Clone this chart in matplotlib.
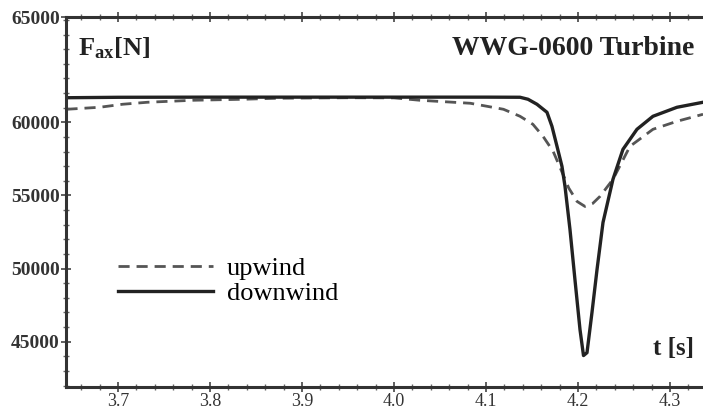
import matplotlib
matplotlib.use("Agg")
import matplotlib.pyplot as plt
from matplotlib.ticker import FixedLocator, FixedFormatter, MultipleLocator

plt.rcParams["font.family"] = ["Liberation Serif", "DejaVu Serif"]
plt.rcParams["mathtext.fontset"] = "custom"
plt.rcParams["mathtext.rm"] = "Liberation Serif"
plt.rcParams["mathtext.bf"] = "Liberation Serif:bold"

# values
t_down = [3.644, 3.70, 3.80, 3.90, 4.00, 4.10, 4.137, 4.1457, 4.1554, 4.1663,
          4.1717, 4.1772, 4.1826, 4.1859, 4.1913, 4.1967, 4.2022, 4.2060, 4.2098,
          4.2152, 4.2207, 4.2272, 4.2380, 4.2489, 4.2641, 4.2815, 4.3076, 4.3359]
f_down = [61680, 61710, 61720, 61720, 61720, 61720, 61712, 61575, 61233, 60685,
          59726, 58356, 56986, 55616, 52671, 49247, 45822, 44050, 44247,
          46986, 49932, 53151, 56096, 58151, 59521, 60411, 61027, 61370]

t_up = [3.644, 3.680, 3.705, 3.732, 3.782, 3.836, 3.873, 3.95, 4.00, 4.028,
        4.083, 4.101, 4.119, 4.137, 4.151, 4.162, 4.173, 4.180, 4.190, 4.199,
        4.2076, 4.216, 4.2239, 4.2380, 4.2565, 4.2815, 4.3076, 4.3359]
f_up = [60890, 61027, 61233, 61370, 61507, 61575, 61644, 61680, 61670, 61507,
        61301, 61096, 60890, 60411, 59863, 59041, 58014, 56986, 55500, 54589,
        54247, 54450, 54932, 56096, 58356, 59521, 60068, 60548]

y_ticks = [45000, 50000, 55000, 60000]
y_labels = ["45000", "50000", "55000", "60000", "65000"]
x_ticks = [3.7, 3.8, 3.9, 4.0, 4.1, 4.2, 4.3]
x_labels = ["3.7", "3.8", "3.9", "4.0", "4.1", "4.2", "4.3"]

Y_LO, Y_HI = 41900, 67200
X_LO, X_HI = 3.6435, 4.3435

fig = plt.figure(figsize=(7.03, 4.09), dpi=100)
ax = fig.add_axes([66 / 703, 22 / 409, 644 / 703, 370 / 409])

ax.plot(t_up, f_up, color="#555555", lw=2.0, ls=(0, (4, 2.5)), label="upwind")
ax.plot(t_down, f_down, color="#222222", lw=2.4, label="downwind")

ax.set_xlim(X_LO, X_HI)
ax.set_ylim(Y_LO, Y_HI)

ax.xaxis.set_major_locator(FixedLocator(x_ticks))
ax.xaxis.set_major_formatter(FixedFormatter(x_labels))
ax.xaxis.set_minor_locator(MultipleLocator(0.02))
# the top label in the original sits at the upper frame
ax.yaxis.set_major_locator(FixedLocator(y_ticks + [Y_HI]))
ax.yaxis.set_major_formatter(FixedFormatter(y_labels))
ax.yaxis.set_minor_locator(MultipleLocator(1000))

for s in ax.spines.values():
    s.set_color("#333333")
    s.set_linewidth(2.2)
ax.spines["right"].set_visible(False)

ax.tick_params(axis="both", which="major", direction="inout", length=7, width=1.2,
               color="#444444", top=True)
ax.tick_params(axis="both", which="minor", direction="inout", length=4, width=1.0,
               color="#666666", top=True)
ax.tick_params(axis="x", labelsize=13, pad=1, labelcolor="#333333")
ax.tick_params(axis="y", labelsize=14, pad=1, labelcolor="#333333")
for lb in ax.get_yticklabels():
    lb.set_fontweight("bold")

ax.text(0.018, 0.915, r"$\mathbf{F_{ax}[N]}$", transform=ax.transAxes, fontsize=19,
        color="#222222", va="center", ha="left")
ax.text(0.975, 0.915, "WWG-0600 Turbine", transform=ax.transAxes, fontsize=20,
        fontweight="bold", color="#222222", va="center", ha="right")
ax.text(0.975, 0.105, "t [s]", transform=ax.transAxes, fontsize=18,
        fontweight="bold", color="#222222", va="center", ha="right")

ax.legend(loc="upper left", bbox_to_anchor=(0.065, 0.38), frameon=False,
          fontsize=19, handlelength=3.6, handletextpad=0.5, labelspacing=0.05,
          borderaxespad=0)

fig.savefig("out.png", dpi=100)
